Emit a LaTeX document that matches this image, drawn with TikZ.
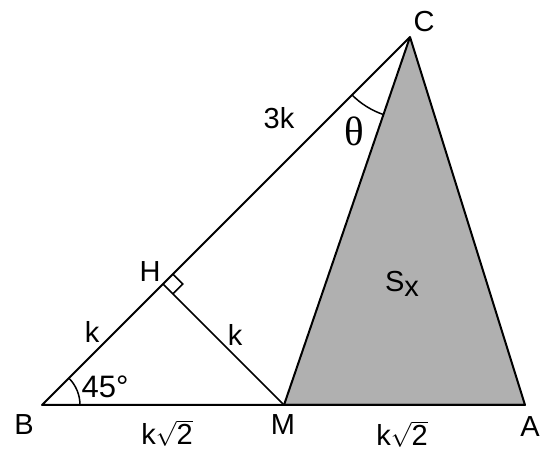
\documentclass[tikz,border=0pt]{standalone}
\usepackage{fontspec}
\setmainfont{Liberation Sans}
\newfontfamily\thetafont{Liberation Serif}
\usetikzlibrary{angles,calc,positioning}
\definecolor{sxgray}{HTML}{B0B0B0}
\tikzset{
  geo side/.style={draw=black, line width=2pt, line join=round},
  geo thin/.style={draw=black, line width=1.5pt},
  geo area/.style={fill=sxgray, draw=black, line width=2pt, line join=round},
  geo arc/.style={draw=black, line width=1.5pt},
  geo label/.style={font=\fontsize{29}{34}\selectfont, inner sep=0pt}
}

\begin{document}
\begin{tikzpicture}[x=1pt, y=1pt]
  \useasboundingbox (0,0) rectangle (549,450);
  % points
  \coordinate (B) at (42,45);
  \coordinate (M) at (284,45);
  \coordinate (A) at (525,45);
  \coordinate (C) at (410,413);
  \coordinate (H) at (163,166);
  % shaded triangle and sides
  \path[geo area] (M) -- (C) -- (A) -- cycle;
  \draw[geo side] (A) -- (B) -- (C);
  \draw[geo thin] (H) -- (M);
  % angle marks
  \pic[geo arc, angle radius=38pt] {angle = M--B--C};
  \pic[geo arc, angle radius=82pt] {angle = B--C--M};
  \draw[geo thin] (H) ++(45:14) -- ++(-45:14) -- ++(-135:14);
  % labels
  \node[geo label] (lC) at (424,428) {C};
  \node[geo label] (lH) at (150,178) {H};
  \node[geo label] (lB) at (24,25) {B};
  \node[geo label] (lM) at (283,25) {M};
  \node[geo label] (lA) at (530,23) {A};
  \node[geo label] (l3k) at (279,332) {3k};
  \node[geo label] (lk1) at (92,118) {k};
  \node[geo label] (lk2) at (235,115) {k};
  \node[geo label, font=\fontsize{31}{36}\selectfont] (l45) at (105,63) {45°};
  \node[geo label] (lBM) at (167,17) {k$\sqrt{\mbox{2}}$};
  \node[geo label] (lMA) at (402,16) {k$\sqrt{\mbox{2}}$};
  \node[geo label, font=\fontsize{41}{46}\selectfont] (ltheta) at (354,319) {\thetafont θ};
  \node[geo label] (lSx) at (402,166) {S\raisebox{-5pt}{x}};
\end{tikzpicture}
\end{document}
